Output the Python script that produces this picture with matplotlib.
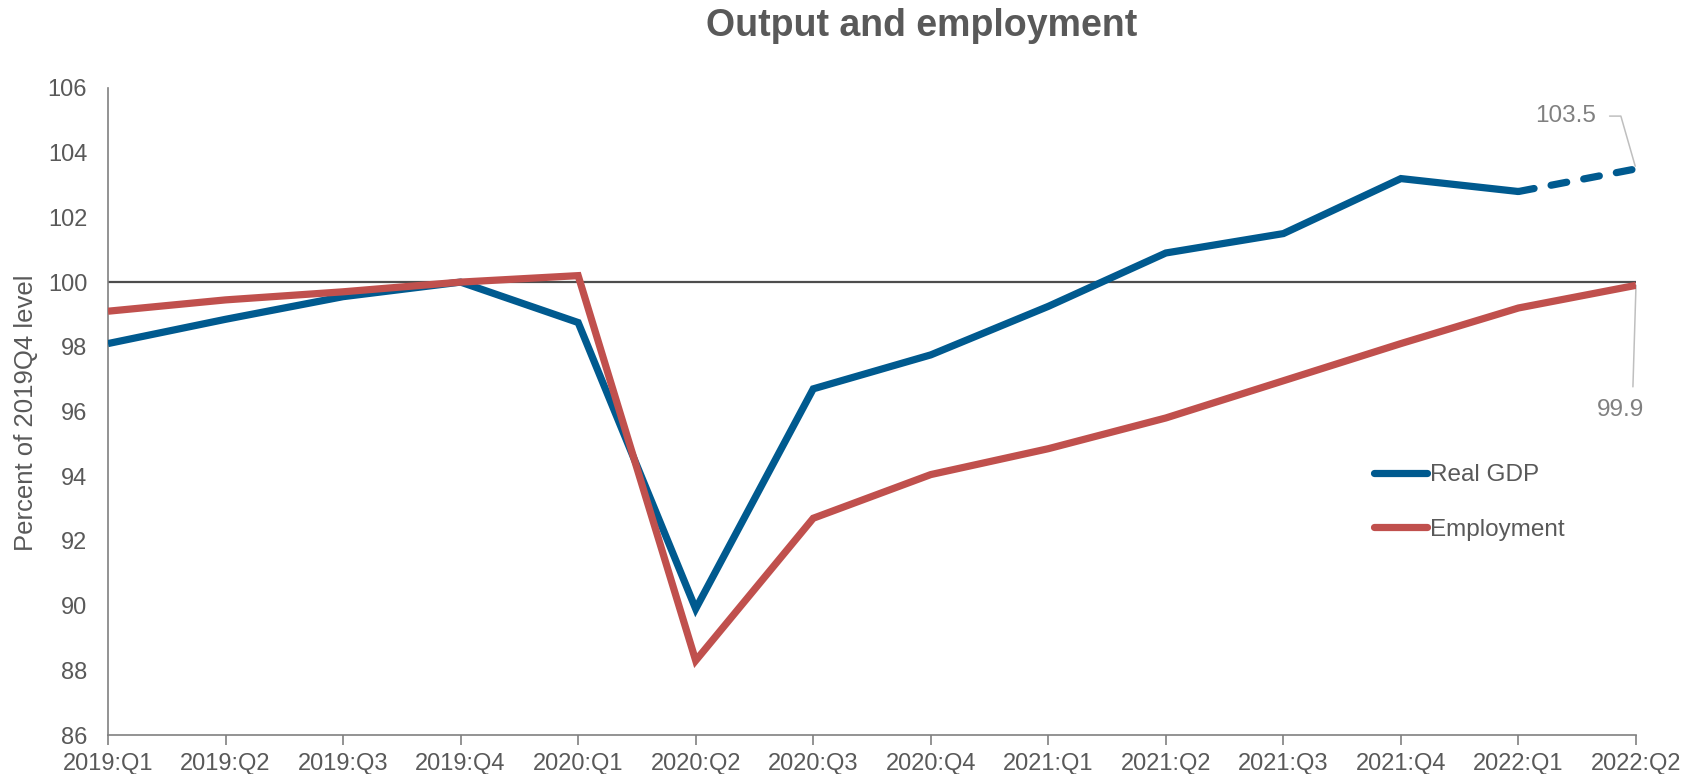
import matplotlib
matplotlib.use("Agg")
import matplotlib.pyplot as plt
from matplotlib.lines import Line2D

plt.rcParams["font.family"] = ["Liberation Sans", "DejaVu Sans"]

quarters = ["2019:Q1", "2019:Q2", "2019:Q3", "2019:Q4",
            "2020:Q1", "2020:Q2", "2020:Q3", "2020:Q4",
            "2021:Q1", "2021:Q2", "2021:Q3", "2021:Q4",
            "2022:Q1", "2022:Q2"]
real_gdp = [98.1, 98.85, 99.55, 100.0, 98.75, 89.9, 96.7, 97.75,
            99.25, 100.9, 101.5, 103.2, 102.8, 103.5]
employment = [99.1, 99.45, 99.7, 100.0, 100.2, 88.3, 92.7, 94.05,
              94.85, 95.8, 96.95, 98.1, 99.2, 99.9]
y_ticks = [86, 88, 90, 92, 94, 96, 98, 100, 102, 104, 106]

BLUE = "#005A8F"
RED = "#C0504D"
TEXT = "#595959"
ANNOT = "#808080"
LEADER = "#BFBFBF"
LW = 5.2

W, H = 1683, 774
fig = plt.figure(figsize=(W / 100, H / 100), dpi=100)
ax = fig.add_axes([108 / W, 1 - 735 / H, (1636 - 108) / W, (735 - 88) / H])

x = list(range(len(quarters)))

# reference level
ax.axhline(100, color="#4D4D4D", lw=1.6, zorder=1)

# GDP: actual through 2022:Q1, estimate for 2022:Q2 dashed
ax.plot(x[:-1], real_gdp[:-1], color=BLUE, lw=LW, solid_joinstyle="miter",
        solid_capstyle="butt", zorder=3)
ax.plot(x[-2:], real_gdp[-2:], color=BLUE, lw=LW, dashes=(2.2, 2.4),
        dash_capstyle="round", zorder=3)
ax.plot(x, employment, color=RED, lw=LW, solid_joinstyle="miter",
        solid_capstyle="butt", zorder=4)

ax.set_xlim(0, len(quarters) - 1)
ax.set_ylim(86, 106)
ax.set_xticks(x)
ax.set_xticklabels(quarters)
ax.set_yticks(y_ticks)
ax.set_yticklabels([str(v) for v in y_ticks])

for side in ("top", "right"):
    ax.spines[side].set_visible(False)
for side in ("left", "bottom"):
    ax.spines[side].set_color("#808080")
    ax.spines[side].set_linewidth(1.2)

ax.tick_params(axis="x", length=7, width=1.2, color="#808080", pad=6,
               labelsize=17, labelcolor=TEXT)
ax.tick_params(axis="y", length=0, pad=15, labelsize=17, labelcolor=TEXT)

fig.text(26 / W, 1 - 413 / H, "Percent of 2019Q4 level", rotation=90,
         ha="center", va="center", fontsize=18.5, color=TEXT)
fig.text(922 / W, 1 - 26 / H, "Output and employment", ha="center",
         va="center", fontsize=27, fontweight="bold", color=TEXT)

# end-point value labels
ax.annotate(f"{real_gdp[-1]:.1f}", xy=(x[-1], real_gdp[-1]),
            xytext=(-29, 38), textcoords="offset points",
            ha="right", va="center", fontsize=17.5, color=ANNOT,
            annotation_clip=False,
            arrowprops=dict(arrowstyle="-", color=LEADER, lw=1.1,
                            relpos=(1, 0.5), shrinkA=8, shrinkB=2,
                            connectionstyle="angle,angleA=0,angleB=106,rad=0"))
ax.annotate(f"{employment[-1]:.1f}", xy=(x[-1], employment[-1]),
            xytext=(-11, -90), textcoords="offset points",
            ha="center", va="center", fontsize=17.5, color=ANNOT,
            annotation_clip=False,
            arrowprops=dict(arrowstyle="-", color=LEADER, lw=1.1,
                            relpos=(0.75, 1), shrinkA=7, shrinkB=0))

handles = [Line2D([], [], color=BLUE, lw=LW, solid_capstyle="round"),
           Line2D([], [], color=RED, lw=LW, solid_capstyle="round")]
leg = ax.legend(handles, ["Real GDP", "Employment"], loc="upper left",
                bbox_to_anchor=(1374 / W, 1 - 464 / H),
                bbox_transform=fig.transFigure, frameon=False,
                fontsize=17.5, handlelength=2.2, handletextpad=0.12,
                labelspacing=1.35, borderpad=0, borderaxespad=0)
for t in leg.get_texts():
    t.set_color(TEXT)

fig.savefig("out.png", dpi=100)
